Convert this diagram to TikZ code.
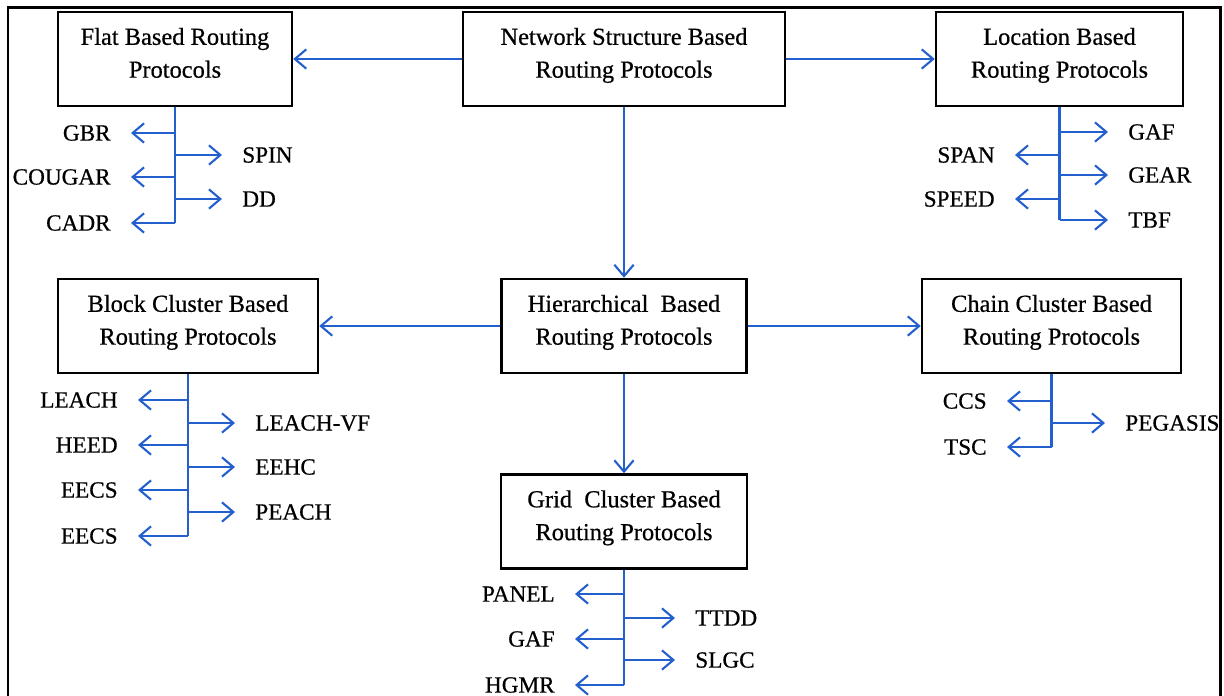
\documentclass[tikz,border=0pt]{standalone}
\usepackage{fontspec}
\setmainfont{Liberation Serif}
\newfontfamily\protofont{Liberation Serif}[FakeBold=0.6]
\usetikzlibrary{arrows.meta}
\definecolor{linkblue}{RGB}{35, 95, 205}

\begin{document}
\begin{tikzpicture}[
  protobox/.style={draw=black, line width=1.4pt, fill=white, minimum height=1.88cm, align=center,
    font=\protofont\fontsize{13.9}{18.7}\selectfont, text depth=0.25cm},
  leaf/.style={inner sep=0pt, font=\protofont\fontsize{13.2}{16}\selectfont},
  link/.style={-{Straight Barb[length=6.5pt, width=11pt]}, line width=1.2pt, linkblue},
  twig/.style={link, shorten >=0.4cm},
  trunk/.style={line width=1.2pt, linkblue}
]
\useasboundingbox (0,0) rectangle (24.48,-13.90);
\clip (0,0) rectangle (24.48,-13.90);
\draw[line width=1.7pt] (0.16,-0.14) rectangle (24.40,-14.5);

% main boxes
\node[protobox, minimum width=6.44cm] (network) at (12.48,-1.18) {Network Structure Based\\Routing Protocols};
\node[protobox, minimum width=4.68cm] (flat) at (3.50,-1.18) {Flat Based Routing\\Protocols};
\node[protobox, minimum width=4.94cm] (location) at (21.19,-1.18) {Location Based\\Routing Protocols};
\node[protobox, minimum width=4.90cm] (hier) at (12.48,-6.52) {Hierarchical\ \ Based\\Routing Protocols};
\node[protobox, minimum width=5.20cm] (block) at (3.76,-6.52) {Block Cluster Based\\Routing Protocols};
\node[protobox, minimum width=5.18cm] (chain) at (21.03,-6.52) {Chain Cluster Based\\Routing Protocols};
\node[protobox, minimum width=4.92cm] (grid) at (12.48,-10.43) {Grid\ \ Cluster Based\\Routing Protocols};

\draw[link] (network) -- (flat);
\draw[link] (network) -- (location);
\draw[link] (network) -- (hier);
\draw[link] (hier) -- (block);
\draw[link] (hier) -- (chain);
\draw[link] (hier) -- (grid);

% flat
\node[leaf, anchor=east] (gbr) at (2.22,-2.66) {GBR};
\node[leaf, anchor=east] (cougar) at (2.22,-3.54) {COUGAR};
\node[leaf, anchor=east] (cadr) at (2.22,-4.46) {CADR};
\node[leaf, anchor=west] (spin) at (4.84,-3.10) {SPIN};
\node[leaf, anchor=west] (dd) at (4.84,-3.98) {DD};
\draw[trunk] (flat.south) -- (flat.south |- cadr);
\foreach \n in {gbr,cougar,cadr,spin,dd}
  \draw[twig] (flat.south |- \n) -- (\n);

% location
\node[leaf, anchor=west] (gaf) at (22.56,-2.64) {GAF};
\node[leaf, anchor=west] (gear) at (22.56,-3.50) {GEAR};
\node[leaf, anchor=west] (tbf) at (22.56,-4.40) {TBF};
\node[leaf, anchor=east] (span) at (19.90,-3.10) {SPAN};
\node[leaf, anchor=east] (speed) at (19.90,-3.98) {SPEED};
\draw[trunk] (location.south) -- (location.south |- tbf);
\foreach \n in {gaf,gear,tbf,span,speed}
  \draw[twig] (location.south |- \n) -- (\n);

% block cluster
\node[leaf, anchor=east] (leach) at (2.36,-8.00) {LEACH};
\node[leaf, anchor=east] (heed) at (2.36,-8.90) {HEED};
\node[leaf, anchor=east] (eecs) at (2.36,-9.80) {EECS};
\node[leaf, anchor=east] (eecsb) at (2.36,-10.72) {EECS};
\node[leaf, anchor=west] (leachvf) at (5.10,-8.46) {LEACH-VF};
\node[leaf, anchor=west] (eehc) at (5.10,-9.34) {EEHC};
\node[leaf, anchor=west] (peach) at (5.10,-10.24) {PEACH};
\draw[trunk] (block.south) -- (block.south |- eecsb);
\foreach \n in {leach,heed,eecs,eecsb,leachvf,eehc,peach}
  \draw[twig] (block.south |- \n) -- (\n);

% chain cluster
\node[leaf, anchor=east] (ccs) at (19.74,-8.02) {CCS};
\node[leaf, anchor=east] (tsc) at (19.74,-8.94) {TSC};
\node[leaf, anchor=west] (pegasis) at (22.50,-8.46) {PEGASIS};
\draw[trunk] (chain.south) -- (chain.south |- tsc);
\foreach \n in {ccs,tsc,pegasis}
  \draw[twig] (chain.south |- \n) -- (\n);

% grid cluster
\node[leaf, anchor=east] (panel) at (11.10,-11.88) {PANEL};
\node[leaf, anchor=east] (gafg) at (11.10,-12.78) {GAF};
\node[leaf, anchor=east] (hgmr) at (11.10,-13.70) {HGMR};
\node[leaf, anchor=west] (ttdd) at (13.90,-12.36) {TTDD};
\node[leaf, anchor=west] (slgc) at (13.90,-13.20) {SLGC};
\draw[trunk] (grid.south) -- (grid.south |- hgmr);
\foreach \n in {panel,gafg,hgmr,ttdd,slgc}
  \draw[twig] (grid.south |- \n) -- (\n);
\end{tikzpicture}
\end{document}
